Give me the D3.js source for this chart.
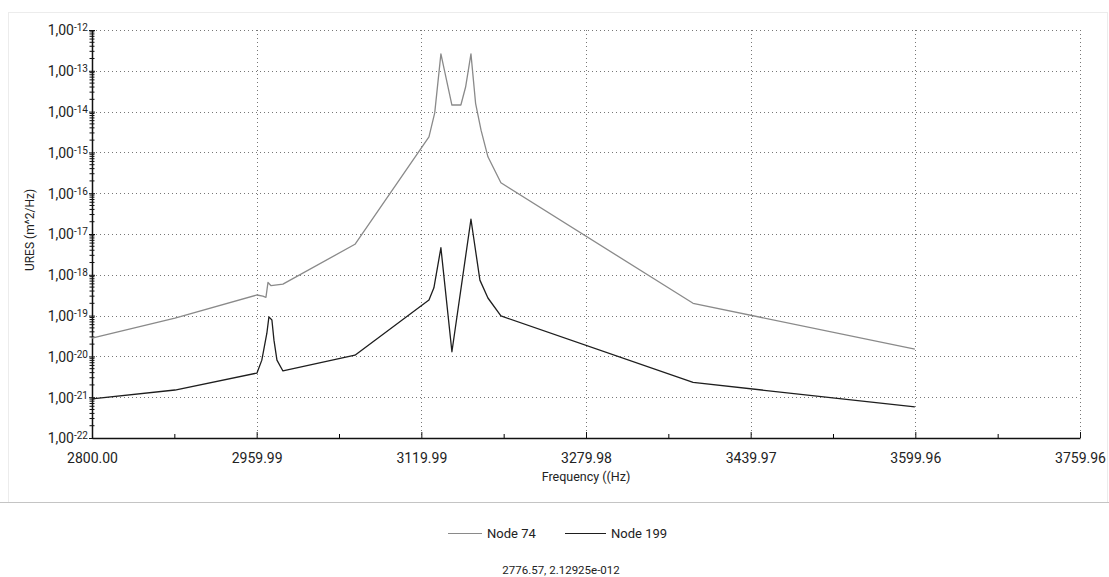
<!DOCTYPE html>
<html>
<head>
<meta charset="utf-8">
<script src="https://cdn.jsdelivr.net/npm/d3@7"></script>
<style>
  body { margin: 0; background: #fff; }
  text { font-family: Roboto, "Liberation Sans", Arial, sans-serif; fill: #222; }
</style>
</head>
<body>
<div id="chart"></div>
<script>
// data
const xTicks = [2800.00, 2959.99, 3119.99, 3279.98, 3439.97, 3599.96, 3759.96];
const yExponents = [-12, -13, -14, -15, -16, -17, -18, -19, -20, -21, -22];

const freq74 = [2800.0, 2880.6, 2960.3, 2966.0, 2969.0, 2971.0, 2974.0, 2985.5, 3055.5,
    3127.4, 3133.0, 3139.0, 3149.7, 3158.4, 3163.0, 3168.2, 3172.7, 3178.0, 3184.7, 3197.3,
    3384.0, 3599.5];
const ures74 = [2.8e-20, 8.7e-20, 3.2e-19, 3.0e-19, 2.8e-19, 6.5e-19, 5.4e-19, 5.9e-19, 5.6e-18,
    2.4e-15, 9.3e-15, 2.6e-13, 1.45e-14, 1.45e-14, 4.0e-14, 2.6e-13, 1.6e-14, 3.5e-15, 7.8e-16, 1.8e-16,
    2.0e-19, 1.5e-20];

const freq199 = [2800.0, 2880.6, 2960.3, 2965.0, 2969.9, 2971.9, 2974.8, 2976.8, 2979.7, 2985.5,
    3055.5, 3127.4, 3132.2, 3139.0, 3149.7, 3168.2, 3176.9, 3184.7, 3197.3, 3384.0, 3599.5];
const ures199 = [9.1e-22, 1.5e-21, 3.9e-21, 8.1e-21, 3.7e-20, 9.3e-20, 7.8e-20, 2.5e-20, 8.1e-21, 4.4e-21,
    1.07e-20, 2.4e-19, 4.8e-19, 4.6e-18, 1.3e-20, 2.3e-17, 7.4e-19, 2.7e-19, 9.8e-20, 2.3e-21, 5.8e-22];

const seriesNames = ["Node 74", "Node 199"];
const seriesColors = ["#8a8a8a", "#1e1e1e"];

const W = 1109, H = 577;
const margin = {top: 30, right: 29, bottom: 139, left: 92};
const width = W - margin.left - margin.right;
const height = H - margin.top - margin.bottom;

const svg = d3.select("#chart").append("svg")
    .attr("width", W)
    .attr("height", H);

// outer frame
svg.append("rect")
    .attr("x", 8.5).attr("y", 12.5)
    .attr("width", 1099).attr("height", 490)
    .attr("fill", "none")
    .attr("stroke", "#ececec");
svg.append("line")
    .attr("x1", 0).attr("x2", W)
    .attr("y1", 502.5).attr("y2", 502.5)
    .attr("stroke", "#c4c4c4");

const g = svg.append("g")
    .attr("transform", `translate(${margin.left},${margin.top})`);

const x = d3.scaleLinear()
    .domain([xTicks[0], xTicks[xTicks.length - 1]])
    .range([0, width]);

const y = d3.scaleLog()
    .domain([1e-22, 1e-12])
    .range([height, 0]);

const decades = yExponents.map(e => Math.pow(10, e));

// grid
g.append("g")
    .selectAll("line")
    .data(decades)
    .enter().append("line")
    .attr("x1", 0).attr("x2", width)
    .attr("y1", d => Math.round(y(d)) + 0.5)
    .attr("y2", d => Math.round(y(d)) + 0.5)
    .attr("stroke", "#777")
    .attr("stroke-dasharray", "1,3");

g.append("g")
    .selectAll("line")
    .data(xTicks.slice(1))
    .enter().append("line")
    .attr("x1", d => Math.round(x(d)) + 0.5)
    .attr("x2", d => Math.round(x(d)) + 0.5)
    .attr("y1", 0).attr("y2", height)
    .attr("stroke", "#777")
    .attr("stroke-dasharray", "1,3");

// x axis with major and minor ticks
const xMinor = d3.pairs(xTicks).map(p => (p[0] + p[1]) / 2);
g.append("g")
    .attr("transform", `translate(0,${height})`)
    .call(d3.axisTop(x).tickValues(xMinor).tickSize(4).tickFormat(""))
    .call(a => a.select(".domain").remove());

const xAxis = g.append("g")
    .attr("transform", `translate(0,${height})`)
    .call(d3.axisBottom(x).tickValues(xTicks).tickSizeInner(-6).tickSizeOuter(0)
        .tickFormat(d => d.toFixed(2)));
xAxis.select(".domain").attr("stroke", "#111").attr("stroke-width", 1.5);
xAxis.selectAll(".tick line").attr("stroke", "#111");
xAxis.selectAll(".tick text")
    .attr("y", 15)
    .style("font-size", "14px")
    .style("font-family", "Roboto, 'Liberation Sans', Arial, sans-serif")
    .attr("fill", "#222");

// y axis: minor log ticks crossing the line
const yMinor = [];
yExponents.slice(1).forEach(e => {
    for (let k = 2; k <= 9; k++) yMinor.push(k * Math.pow(10, e));
});
g.append("g")
    .selectAll("line")
    .data(yMinor)
    .enter().append("line")
    .attr("x1", -2.5).attr("x2", 2.5)
    .attr("y1", d => y(d)).attr("y2", d => y(d))
    .attr("stroke", "#111");

const yAxis = g.append("g")
    .call(d3.axisLeft(y).tickValues(decades).tickSizeInner(3).tickSizeOuter(0).tickFormat(""));
yAxis.select(".domain").attr("stroke", "#111").attr("stroke-width", 1.5);
yAxis.selectAll(".tick line").attr("x2", 3).attr("x1", -3).attr("stroke", "#111");

const yLabels = yAxis.selectAll(".tick")
    .append("text")
    .attr("x", -4)
    .attr("dy", "0.35em")
    .attr("text-anchor", "end")
    .style("font-size", "14px");
yLabels.append("tspan").text("1,00");
yLabels.append("tspan")
    .attr("dy", "-0.4em")
    .style("font-size", "10px")
    .text((d, i) => String(yExponents[i]));

// axis titles
g.append("text")
    .attr("x", 494)
    .attr("y", height + 43)
    .attr("text-anchor", "middle")
    .style("font-size", "12.5px")
    .text("Frequency ((Hz)");

g.append("text")
    .attr("transform", "rotate(-90)")
    .attr("x", -height / 2 + 4)
    .attr("y", -58)
    .attr("text-anchor", "middle")
    .style("font-size", "12px")
    .text("URES (m^2/Hz)");

// lines
const line = d3.line()
    .x(d => x(d[0]))
    .y(d => y(d[1]));

const series = [
    d3.zip(freq74, ures74),
    d3.zip(freq199, ures199)
];

g.selectAll(".series")
    .data(series)
    .enter().append("path")
    .attr("class", "series")
    .attr("d", line)
    .attr("fill", "none")
    .attr("stroke", (d, i) => seriesColors[i])
    .attr("stroke-width", 1.3)
    .attr("stroke-linejoin", "round");

// legend
const legendX = [448, 565];
const legend = svg.selectAll(".legend")
    .data(seriesNames)
    .enter().append("g")
    .attr("class", "legend")
    .attr("transform", (d, i) => `translate(${legendX[i]},533)`);

legend.append("line")
    .attr("x1", 0).attr("x2", (d, i) => i === 0 ? 34 : 41)
    .attr("y1", 0.5).attr("y2", 0.5)
    .attr("stroke", (d, i) => seriesColors[i])
    .attr("stroke-width", 1.2);

legend.append("text")
    .attr("x", (d, i) => i === 0 ? 39 : 46)
    .attr("y", 5)
    .style("font-size", "13px")
    .text(d => d);

// cursor readout
svg.append("text")
    .attr("x", 561)
    .attr("y", 574)
    .attr("text-anchor", "middle")
    .style("font-size", "11.5px")
    .text("2776.57, 2.12925e-012");
</script>
</body>
</html>
